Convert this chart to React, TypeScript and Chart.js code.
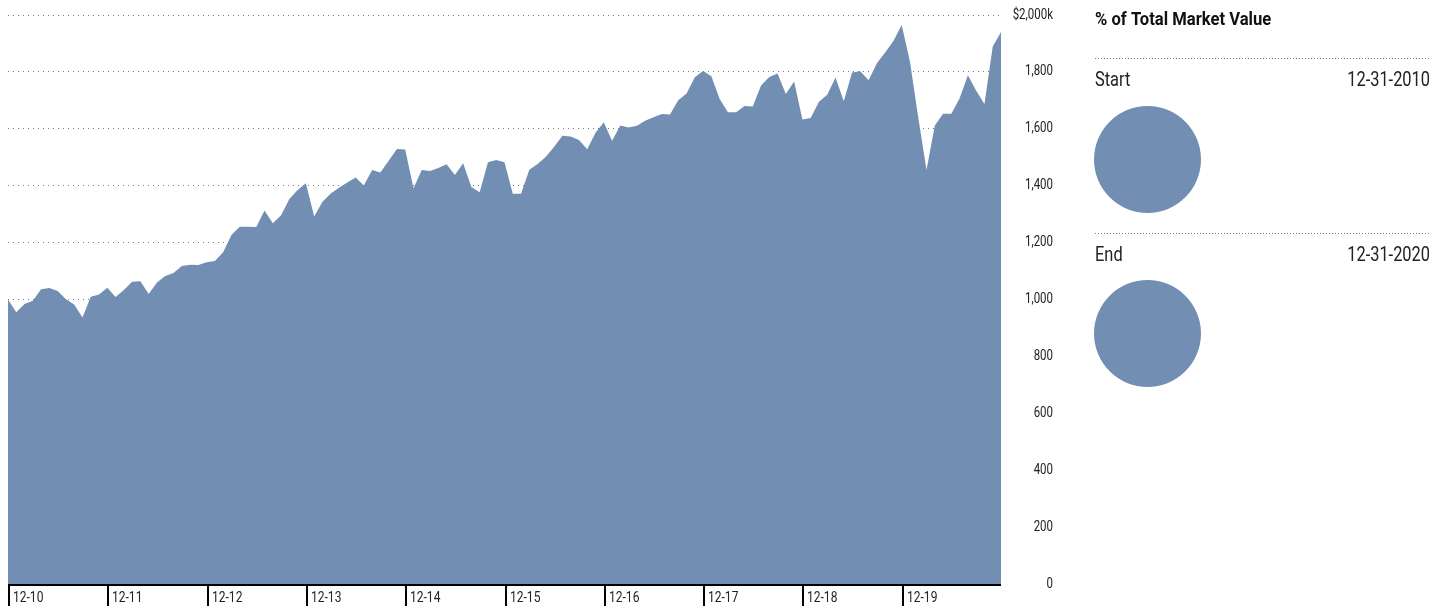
import React, { useEffect, useRef } from "react";
import { Chart, registerables } from "chart.js";

Chart.register(...registerables);

const FONT = "Roboto, 'Liberation Sans', sans-serif";
const AREA_COLOR = "rgb(114,143,179)";
const TEXT_COLOR = "#222";
const CONDENSE = 0.82;

// Month-end categories, 12-2010 .. 12-2020
const START_LABEL = "12-10";
const YEARS = ["11", "12", "13", "14", "15", "16", "17", "18", "19", "20"];
const MONTHS = ["01", "02", "03", "04", "05", "06", "07", "08", "09", "10", "11", "12"];
const CATEGORIES: string[] = [START_LABEL];
YEARS.forEach((y) => MONTHS.forEach((m) => CATEGORIES.push(`${m}-${y}`)));

// Market value ($k)
const VALUES = [
  1000, 955, 984, 996, 1036, 1040, 1030, 1001, 982, 937, 1010, 1018,
  1041, 1009, 1033, 1062, 1064, 1019, 1060, 1083, 1093, 1118, 1122, 1121,
  1131, 1135, 1166, 1227, 1256, 1256, 1255, 1313, 1268, 1296, 1353, 1385,
  1409, 1292, 1344, 1373, 1393, 1411, 1429, 1401, 1455, 1446, 1488, 1529,
  1527, 1391, 1455, 1452, 1462, 1475, 1438, 1479, 1395, 1377, 1482, 1490,
  1482, 1372, 1372, 1456, 1476, 1502, 1537, 1576, 1573, 1561, 1528, 1586,
  1623, 1558, 1612, 1605, 1611, 1628, 1641, 1652, 1650, 1700, 1724, 1781,
  1803, 1785, 1705, 1658, 1658, 1680, 1678, 1752, 1782, 1794, 1722, 1766,
  1633, 1638, 1695, 1720, 1780, 1697, 1798, 1802, 1771, 1830, 1868, 1909,
  1965, 1836, 1640, 1455, 1612, 1653, 1653, 1707, 1788, 1734, 1687, 1889,
  1940,
];

const X_TICK_LABELS = ["12-10", "12-11", "12-12", "12-13", "12-14", "12-15", "12-16", "12-17", "12-18", "12-19"];
const Y_TICK_LABELS = ["0", "200", "400", "600", "800", "1,000", "1,200", "1,400", "1,600", "1,800", "$2,000k"];

const PANEL_TITLE = "% of Total Market Value";
const START_TEXT = "Start";
const START_DATE = "12-31-2010";
const END_TEXT = "End";
const END_DATE = "12-31-2020";
const PIE_START = [100];
const PIE_END = [100];

function drawText(
  ctx: CanvasRenderingContext2D,
  text: string,
  x: number,
  y: number,
  font: string,
  align: CanvasTextAlign,
  baseline: CanvasTextBaseline,
  sx: number,
  color: string
) {
  ctx.save();
  ctx.font = font;
  ctx.textAlign = align;
  ctx.textBaseline = baseline;
  ctx.fillStyle = color;
  ctx.translate(x, y);
  ctx.scale(sx, 1);
  ctx.fillText(text, 0, 0);
  ctx.restore();
}

const axisPlugin = {
  id: "customAxes",
  afterDraw(chart: any) {
    const ctx = chart.ctx as CanvasRenderingContext2D;
    const xs = chart.scales.x;
    const ys = chart.scales.y;
    const area = chart.chartArea;
    ctx.save();
    // baseline
    const y0 = ys.getPixelForValue(0);
    ctx.fillStyle = "#000";
    ctx.fillRect(area.left, y0, area.right - area.left, 2);
    // year ticks + labels
    X_TICK_LABELS.forEach((lab) => {
      const idx = CATEGORIES.indexOf(lab);
      const x = Math.round(xs.getPixelForValue(idx));
      ctx.fillStyle = "#000";
      ctx.fillRect(x, y0, 2, 22);
      drawText(ctx, lab, x + 5, y0 + 14, `14px ${FONT}`, "left", "middle", 0.86, TEXT_COLOR);
    });
    // y labels
    ys.ticks.forEach((t: any, i: number) => {
      drawText(
        ctx,
        Y_TICK_LABELS[i] ?? String(t.value),
        area.right + 52,
        ys.getPixelForValue(t.value),
        `14px ${FONT}`,
        "right",
        "middle",
        CONDENSE,
        TEXT_COLOR
      );
    });

    // right panel
    const px = 1095;
    const pr = 1430;
    drawText(ctx, PANEL_TITLE, px, 25, `bold 19px ${FONT}`, "left", "alphabetic", 0.875, "#111");

    const dotted = (y: number) => {
      ctx.strokeStyle = "#808080";
      ctx.lineWidth = 1;
      ctx.setLineDash([1, 2]);
      ctx.beginPath();
      ctx.moveTo(px, y + 0.5);
      ctx.lineTo(pr, y + 0.5);
      ctx.stroke();
      ctx.setLineDash([]);
    };
    dotted(58);
    dotted(233);

    const f = `20px ${FONT}`;
    drawText(ctx, START_TEXT, px, 86, f, "left", "alphabetic", CONDENSE, TEXT_COLOR);
    drawText(ctx, END_TEXT, px, 261, f, "left", "alphabetic", CONDENSE, TEXT_COLOR);
    drawText(ctx, START_DATE, pr, 86, f, "right", "alphabetic", CONDENSE, TEXT_COLOR);
    drawText(ctx, END_DATE, pr, 261, f, "right", "alphabetic", CONDENSE, TEXT_COLOR);
    ctx.restore();
  },
};

function PieBox({ data, top }: { data: number[]; top: number }) {
  const ref = useRef<HTMLCanvasElement>(null);
  useEffect(() => {
    if (!ref.current) return;
    const chart = new Chart(ref.current, {
      type: "pie",
      data: {
        labels: ["Total"],
        datasets: [{ data, backgroundColor: [AREA_COLOR], borderWidth: 0 }],
      },
      options: {
        animation: false,
        responsive: false,
        layout: { padding: 0 },
        plugins: { legend: { display: false }, tooltip: { enabled: false } },
      },
    });
    return () => chart.destroy();
  }, [data]);
  return (
    <canvas
      ref={ref}
      width={107}
      height={107}
      style={{ position: "absolute", left: 1094, top, width: 107, height: 107 }}
    />
  );
}

export default function App() {
  const ref = useRef<HTMLCanvasElement>(null);
  useEffect(() => {
    if (!ref.current) return;
    const chart = new Chart(ref.current, {
      type: "line",
      data: {
        labels: CATEGORIES,
        datasets: [
          {
            data: VALUES,
            fill: "origin",
            backgroundColor: AREA_COLOR,
            borderColor: "rgba(0,0,0,0)",
            borderWidth: 0,
            pointRadius: 0,
            tension: 0,
          },
        ],
      },
      options: {
        animation: false,
        responsive: false,
        layout: { padding: { left: 8, right: 1447 - 1001, top: 15, bottom: 610 - 584 } },
        plugins: { legend: { display: false }, tooltip: { enabled: false } },
        scales: {
          x: { type: "category", display: false, offset: false },
          y: {
            min: 0,
            max: 2000,
            position: "right",
            ticks: { stepSize: 200, display: false },
            grid: { drawTicks: false, color: "#7a7a7a", lineWidth: 1 },
            border: { display: false, dash: [1, 4] },
          },
        },
      },
      plugins: [axisPlugin],
    });
    return () => chart.destroy();
  }, []);
  return (
    <div style={{ position: "absolute", left: 0, top: 0, width: 1447, height: 610, background: "#fff" }}>
      <canvas ref={ref} width={1447} height={610} style={{ position: "absolute", left: 0, top: 0, width: 1447, height: 610 }} />
      <PieBox data={PIE_START} top={106} />
      <PieBox data={PIE_END} top={280} />
    </div>
  );
}
